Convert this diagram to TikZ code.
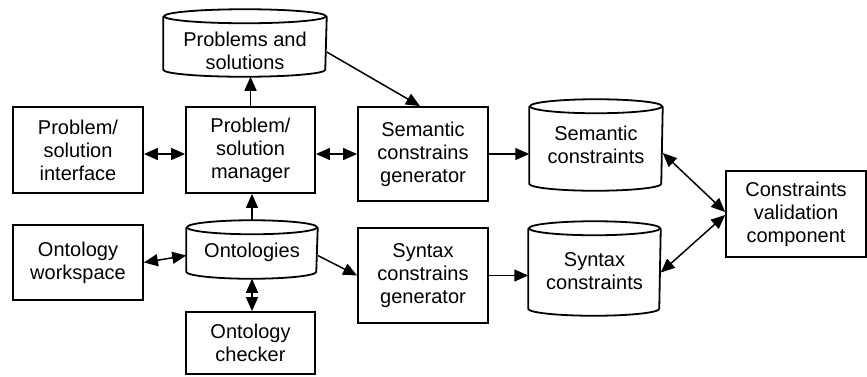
\documentclass[tikz,border=0pt]{standalone}
\usepackage{fontspec}
\setmainfont{Liberation Sans}
\usetikzlibrary{arrows.meta}

% outline of a database drum round a named node (rx = half width)
\newcommand{\drumline}[2]{%
  \draw[line width=1.8pt] ([yshift=-7pt]#1.north) ellipse [x radius=#2pt, y radius=7pt];
  \draw[line width=1.8pt] ([yshift=-7pt]#1.north west) -- ([yshift=7pt]#1.south west)
    arc [start angle=180, end angle=360, x radius=#2pt, y radius=7pt]
    -- ([yshift=-7pt]#1.north east);
}

\begin{document}
\begin{tikzpicture}[x=1pt,y=-1pt,line width=1.5pt,
    every node/.style={align=center,inner sep=0pt,
      font=\fontsize{20}{23}\selectfont},
    box/.style={draw,rectangle,line width=1.8pt},
    drum/.style={rectangle},
    arr/.style={-{Triangle[length=14pt,width=12pt]}},
    both/.style={{Triangle[length=14pt,width=12pt]}-{Triangle[length=14pt,width=12pt]}}]
  \useasboundingbox (0,0) rectangle (867,376);

  % boxes
  \node[box,minimum width=130pt,minimum height=86pt] (psi) at (78,150) {Problem/\\solution\\interface};
  \node[box,minimum width=129pt,minimum height=86pt] (psm) at (250.5,150) {Problem/\\solution\\manager};
  \node[box,minimum width=130pt,minimum height=94pt] (scg) at (423,154) {Semantic\\constrains\\generator};
  \node[box,minimum width=130pt,minimum height=75pt] (ows) at (78,262.5) {Ontology\\workspace};
  \node[box,minimum width=129pt,minimum height=62pt] (chk) at (250.5,343) {Ontology\\checker};
  \node[box,minimum width=130pt,minimum height=95pt] (ycg) at (423,275.5) {Syntax\\constrains\\generator};
  \node[box,minimum width=140pt,minimum height=86pt] (cvc) at (796,214) {Constraints\\validation\\component};

  % stores
  \node[drum,minimum width=162pt,minimum height=66pt] (pbs) at (245,43) {\rule{0pt}{30pt}Problems and\\solutions};
  \node[drum,minimum width=130pt,minimum height=57pt] (ont) at (252,249.5) {\rule{0pt}{20.5pt}Ontologies};
  \node[drum,minimum width=132pt,minimum height=90pt] (sct) at (596,145) {Semantic\\constraints};
  \node[drum,minimum width=131pt,minimum height=93pt] (yct) at (594.5,268.5) {\rule{0pt}{19.5pt}Syntax\\constraints};
  \drumline{pbs}{81}
  \drumline{ont}{65}
  \drumline{sct}{66}
  \drumline{yct}{65.5}

  % connectors
  \draw[both] ([yshift=-4pt]psi.east) -- ([yshift=-4pt]psm.west);
  \draw[both] (scg.west -| psm.east) -- (scg.west);
  \draw[arr] (psm.north) -- (psm.north |- pbs.south);
  \draw[arr] ([yshift=-9pt]pbs.east) -- ([xshift=-3pt]scg.north);
  \draw[arr] (ont.north) -- (ont.north |- psm.south);
  \draw[both] (ows.east) -- ([yshift=-6pt]ont.west);
  \draw[both] (ont.south) -- (ont.south |- chk.north);
  \draw[arr] ([yshift=-6pt]ont.east) -- (ycg.west);
  \draw[arr] (scg.east) -- (sct.west |- scg.east);
  \draw[arr] (ycg.east) -- (yct.west |- ycg.east);
  \draw[both] ([yshift=-8pt]sct.east) -- ([yshift=2pt]cvc.west);
  \draw[both] ([yshift=-4pt]yct.east) -- ([yshift=-1pt]cvc.west);
\end{tikzpicture}
\end{document}
